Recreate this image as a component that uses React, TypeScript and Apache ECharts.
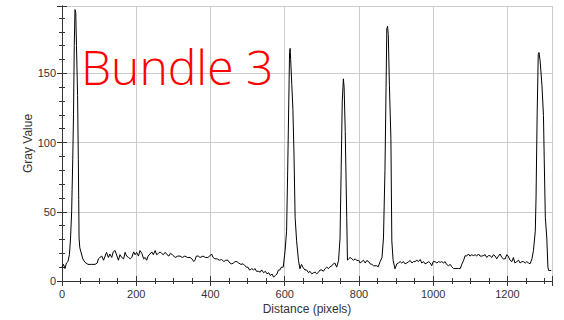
import React, { useEffect, useRef } from "react";
import * as echarts from "echarts";

const distance = [
  0, 4, 8, 12, 16, 20, 23, 26, 29, 31, 33, 35, 37, 39, 42, 44, 45, 46, 48, 51, 56, 62, 70, 80, 89, 95, 98, 102, 107, 112,
  120, 125, 129, 134, 138, 143, 148, 152, 156, 161, 166, 170, 174, 179, 184, 188, 193, 197, 201, 206, 210, 215, 220, 224,
  228, 232, 237, 242, 246, 251, 255, 260, 264, 268, 273, 278, 283, 288, 292, 297, 305, 312, 318, 324, 331, 338, 345, 350,
  355, 358, 362, 367, 372, 380, 386, 393, 398, 403, 407, 412, 418, 424, 430, 436, 441, 447, 452, 457, 462, 466, 471, 476,
  482, 488, 493, 497, 501, 505, 507, 511, 516, 520, 524, 529, 534, 538, 543, 548, 552, 557, 561, 566, 570, 575, 579, 583,
  587, 591, 596, 601, 605, 608, 611, 613, 614.5, 616, 619, 622, 625, 628, 632, 637, 641, 645, 649, 654, 659, 664, 668, 673,
  678, 682, 686, 690, 695, 700, 704, 709, 713, 718, 722, 727, 731, 735, 740, 745, 749, 752, 755, 758, 760, 763, 767, 769,
  772, 776, 781, 785, 790, 794, 799, 803, 808, 812, 817, 821, 826, 830, 835, 839, 843, 848, 852, 857, 862, 866, 870, 873,
  875, 877, 879, 882, 886, 888.5, 892, 897, 902, 906, 911, 915, 920, 924, 929, 934, 938, 943, 947, 951, 956, 960, 965, 969,
  974, 978, 983, 988, 992, 996, 1000, 1005, 1010, 1014, 1019, 1023, 1028, 1032, 1036, 1041, 1046, 1050, 1055, 1059, 1064,
  1068, 1073, 1077, 1082, 1086, 1090, 1095, 1099, 1104, 1108, 1113, 1117, 1122, 1126, 1131, 1135, 1140, 1144, 1149, 1153,
  1158, 1162, 1167, 1171, 1176, 1180, 1185, 1189, 1194, 1198, 1202, 1207, 1212, 1216, 1220, 1225, 1230, 1234, 1239, 1243,
  1248, 1252, 1257, 1261, 1266, 1270, 1275, 1277, 1280, 1283, 1285, 1288, 1293, 1297, 1299, 1302, 1306, 1309, 1311, 1318,
];

const grayValue = [
  10, 12, 9, 13, 14, 19, 31, 50, 88, 120, 170, 196, 194, 170, 134, 88, 59, 31, 24, 21, 16, 13.5, 12, 12, 12, 13, 16, 17, 18, 15,
  20.7, 17, 19.5, 17, 21, 22, 18, 15, 19, 17, 16, 20.7, 18, 17, 16, 17, 21, 19, 20.7, 18, 22, 20, 16, 17,
  15, 18, 19.5, 21, 19, 22, 19, 20, 21, 20, 19, 20.7, 19, 18, 20, 19, 17, 18, 18, 17, 18, 17, 17, 16,
  14, 15, 18, 18, 17, 18, 17, 17, 18, 19.5, 17, 16, 16, 15, 15.5, 14, 15, 15, 13, 12.4, 13, 14, 14, 13,
  12, 12.4, 11, 10, 10, 8, 7.9, 9, 8, 9, 7, 7, 6.4, 8, 6, 7, 5.2, 6, 4, 5, 2.8, 4, 5, 7.9,
  8, 10, 10, 22, 36, 80, 130, 165, 168, 160, 142, 124, 91, 46, 29, 15, 8.8, 12, 10, 8, 8, 6, 7, 5.2,
  6, 6.4, 5.2, 6, 7.9, 8, 7, 9, 10, 9, 10.3, 11, 12.4, 13, 10, 14.8, 31, 80, 130, 146, 140, 108, 46, 15,
  16, 17, 16, 15, 16, 14.8, 15, 13, 14, 15, 13, 14.8, 14, 12.4, 12, 11, 11, 11, 10.3, 14, 17, 31, 80, 140,
  182, 184, 178, 141, 103, 29, 15, 8.8, 12.4, 13, 14, 13, 14, 12.4, 13, 14, 14.8, 13, 14, 14, 15, 14, 15.5, 13,
  14, 12.4, 13, 14, 13, 11, 14, 14, 13, 14, 13.5, 14, 13, 14, 12, 11, 12, 10.3, 9, 9, 9,
  9, 9, 12, 15, 18.3, 18, 19.5, 18, 19, 18.3, 19, 18, 19.5, 18, 18, 18.3, 19, 17, 18.3, 18.3,
  17, 19, 18, 16, 18, 19.5, 17, 16, 16, 19, 18, 15, 14, 17, 13, 14, 15, 13, 14, 14,
  13, 14, 13, 12.4, 16, 22, 36, 60, 120, 163.6, 165, 159, 141, 119.5, 88.6, 46, 31, 10, 7.6, 7.6,
];

const xTicks = [0, 200, 400, 600, 800, 1000, 1200];
const yTicks = [0, 50, 100, 150];

const X_MAX = 1320;
const Y_MAX = 198.6;

export default function App() {
  const ref = useRef<HTMLDivElement>(null);
  useEffect(() => {
    if (!ref.current) return;
    const chart = echarts.init(ref.current, undefined, { renderer: "svg" });
    const labelStyle = { color: "#333", fontSize: 11, fontFamily: "Liberation Sans, Arial, sans-serif" };
    const frame = { show: true, lineStyle: { color: "#333", width: 1 } };
    const tick = { show: true, inside: true, length: 5, lineStyle: { color: "#333" } };
    const minor = (n: number) => ({ show: true, splitNumber: n, length: 3, lineStyle: { color: "#333" } });
    chart.setOption({
      animation: false,
      backgroundColor: "#fff",
      grid: { left: 62, right: 12, top: 6, bottom: 36, containLabel: false },
      xAxis: [
        {
          type: "value",
          min: 0,
          max: X_MAX,
          interval: 200,
          position: "bottom",
          axisLine: frame,
          axisTick: tick,
          minorTick: minor(4),
          splitLine: { show: true, lineStyle: { color: "#cccccc", width: 1 } },
          axisLabel: {
            ...labelStyle,
            margin: 7,
            showMaxLabel: false,
            formatter: (v: number) => (xTicks.includes(v) ? String(v) : ""),
          },
          name: "Distance (pixels)",
          nameLocation: "middle",
          nameGap: 22,
          nameMoveOverlap: false,
          nameTextStyle: { ...labelStyle, fontSize: 12 },
        },
        {
          type: "value",
          min: 0,
          max: X_MAX,
          interval: 200,
          position: "top",
          axisLine: frame,
          axisTick: tick,
          minorTick: minor(4),
          splitLine: { show: false },
          axisLabel: { show: false },
        },
      ],
      yAxis: [
        {
          type: "value",
          min: 0,
          max: Y_MAX,
          interval: 50,
          position: "left",
          axisLine: frame,
          axisTick: tick,
          minorTick: minor(5),
          splitLine: { show: true, lineStyle: { color: "#cccccc", width: 1 } },
          axisLabel: {
            ...labelStyle,
            margin: 6,
            showMaxLabel: false,
            formatter: (v: number) => (yTicks.includes(v) ? String(v) : ""),
          },
          name: "Gray Value",
          nameLocation: "middle",
          nameGap: 28,
          nameMoveOverlap: false,
          nameTextStyle: { ...labelStyle, fontSize: 12 },
        },
        {
          type: "value",
          min: 0,
          max: Y_MAX,
          interval: 50,
          position: "right",
          axisLine: frame,
          axisTick: tick,
          minorTick: minor(5),
          splitLine: { show: false },
          axisLabel: { show: false },
        },
      ],
      graphic: [
        {
          type: "text",
          left: 81,
          top: 42,
          z: 100,
          style: {
            text: "Bundle 3",
            fill: "#ff0000",
            fontSize: 48,
            fontWeight: 300,
            fontFamily: "'Open Sans', Lato, sans-serif",
          },
        },
      ],
      series: [
        {
          type: "line",
          xAxisIndex: 0,
          yAxisIndex: 0,
          data: distance.map((d, i) => [d, grayValue[i]]),
          showSymbol: false,
          symbol: "none",
          lineStyle: { color: "#000", width: 1 },
          silent: true,
        },
      ],
    });
    return () => chart.dispose();
  }, []);
  return <div ref={ref} style={{ position: "fixed", left: 0, top: 0, width: 564, height: 320, background: "#fff" }} />;
}
